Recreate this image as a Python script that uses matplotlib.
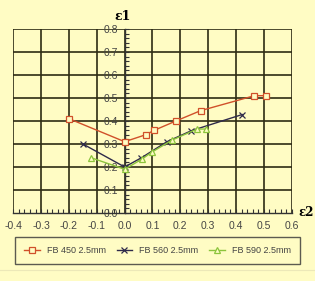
import matplotlib.pyplot as plt
from matplotlib.lines import Line2D
import numpy as np

# strain data
fb450_x = [-0.20, 0.0, 0.075, 0.107, 0.184, 0.273, 0.466, 0.506]
fb450_y = [0.41, 0.31, 0.34, 0.36, 0.40, 0.445, 0.51, 0.51]
fb560_x = [-0.15, 0.0, 0.06, 0.152, 0.24, 0.422]
fb560_y = [0.30, 0.20, 0.24, 0.31, 0.358, 0.428]
fb590_x = [-0.12, 0.0, 0.063, 0.097, 0.17, 0.26, 0.292]
fb590_y = [0.24, 0.19, 0.235, 0.264, 0.317, 0.365, 0.365]

x_ticks = [-0.4, -0.3, -0.2, -0.1, 0.0, 0.1, 0.2, 0.3, 0.4, 0.5, 0.6]
y_ticks = [0.0, 0.1, 0.2, 0.3, 0.4, 0.5, 0.6, 0.7, 0.8]

bg = "#fffcc4"
grid_col = "#2e2c14"
plt.rcParams['font.family'] = ['Liberation Sans', 'DejaVu Sans']

fig = plt.figure(figsize=(3.15, 2.81), dpi=100, facecolor=bg)
ax = fig.add_axes([13.3 / 315, 1 - 213 / 281, 278.4 / 315, 184 / 281])
ax.set_facecolor(bg)
ax.set_xlim(-0.4, 0.6)
ax.set_ylim(0.0, 0.8)

# grid drawn by hand so the outer edges are included
for xv in x_ticks:
    ax.axvline(xv, color=grid_col, lw=1.2, zorder=1)
for yv in y_ticks[1:]:
    ax.axhline(yv, color=grid_col, lw=1.2, zorder=1)

ax.spines['left'].set_position(('data', 0))
for s in ['top', 'right']:
    ax.spines[s].set_visible(False)
ax.spines['left'].set_color("#333333")
ax.spines['bottom'].set_color("#333333")
ax.spines['left'].set_linewidth(1.0)
ax.spines['bottom'].set_linewidth(1.0)

ax.set_xticks(x_ticks)
ax.set_xticklabels([f"{v:.1f}" for v in x_ticks])
ax.set_yticks(y_ticks)
ax.set_yticklabels([f"{v:.1f}" for v in y_ticks])
ax.set_xticks(np.arange(-0.4, 0.601, 0.02), minor=True)
ax.set_yticks(np.arange(0.0, 0.801, 0.02), minor=True)
ax.tick_params(axis='both', which='both', direction='in', length=3, width=0.8,
               color="#333333", labelsize=7.5, labelcolor="#444444")
ax.tick_params(axis='x', which='major', pad=6)
ax.tick_params(axis='y', which='major', pad=5)

ax.plot(fb450_x, fb450_y, color="#d0502a", lw=1.0, marker='s', ms=4,
        mfc=bg, mec="#d0502a", mew=0.9, label="FB 450 2.5mm", zorder=3)
ax.plot(fb560_x, fb560_y, color="#2e2a4a", lw=1.0, marker='x', ms=4,
        mew=0.9, label="FB 560 2.5mm", zorder=3)
ax.plot(fb590_x, fb590_y, color="#8cc43c", lw=1.0, marker='^', ms=4,
        mfc=bg, mec="#8cc43c", mew=0.9, label="FB 590 2.5mm", zorder=3)

fig.text(123 / 315, 1 - 17 / 281, "ε1", fontsize=9, fontweight='bold',
         family=['DejaVu Serif'], ha='center', va='center')
fig.text(314 / 315, 1 - 213 / 281, "ε2", fontsize=8.5, fontweight='bold',
         family=['DejaVu Serif'], ha='right', va='center')

leg = fig.legend(loc='center', bbox_to_anchor=(157.5 / 315, 1 - 250.5 / 281),
                 ncol=3, frameon=True, fancybox=False, fontsize=6.5,
                 handlelength=1.7, handletextpad=0.8, columnspacing=1.2,
                 borderpad=1.0, borderaxespad=0)
leg.get_frame().set_edgecolor("#333333")
leg.get_frame().set_facecolor(bg)
leg.get_frame().set_linewidth(1.0)
for t in leg.get_texts():
    t.set_color("#444444")

fig.add_artist(Line2D([0, 1], [1 - 270 / 281, 1 - 270 / 281], color="#ece8b8", lw=0.8))

fig.savefig("out.png", dpi=100, facecolor=bg)
